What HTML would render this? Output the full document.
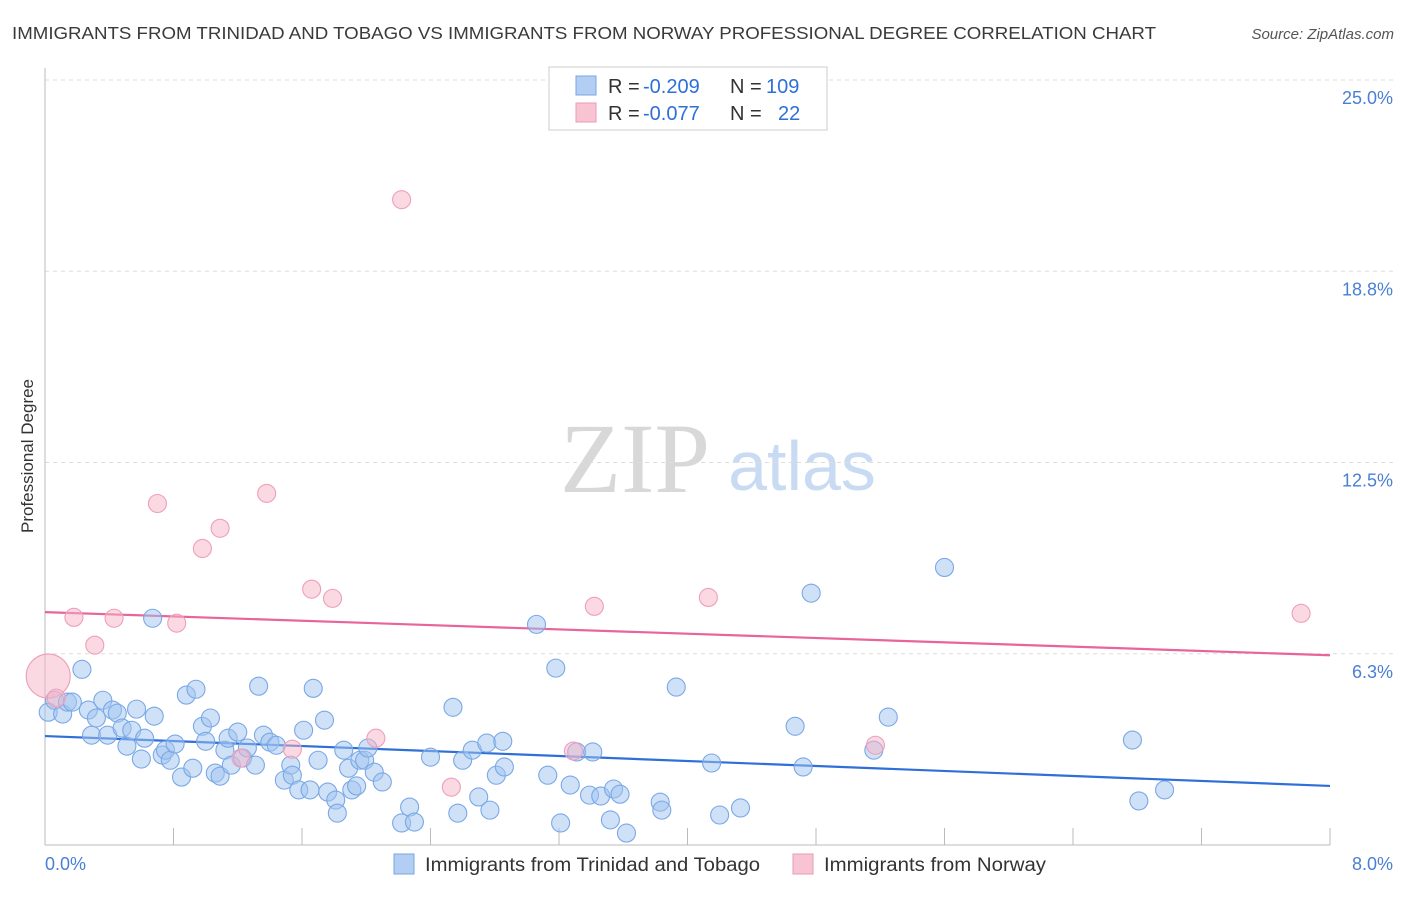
<!DOCTYPE html>
<html><head><meta charset="utf-8"><style>
body{margin:0;background:#fff;font-family:"Liberation Sans",sans-serif;}
svg text{font-family:"Liberation Sans",sans-serif;}
</style></head><body>
<svg id="chart" width="1406" height="892" xmlns="http://www.w3.org/2000/svg">
<text x="12" y="39" font-size="17.5" fill="#3a3a3a" textLength="1144" lengthAdjust="spacingAndGlyphs">IMMIGRANTS FROM TRINIDAD AND TOBAGO VS IMMIGRANTS FROM NORWAY PROFESSIONAL DEGREE CORRELATION CHART</text>
<text x="1394" y="39" font-size="15" fill="#555" text-anchor="end" font-style="italic">Source: ZipAtlas.com</text>
<text transform="translate(33,456) rotate(-90)" font-size="17" fill="#333" text-anchor="middle">Professional Degree</text>
<g>
<text x="635" y="492" font-size="100" fill="#d8d8d8" text-anchor="middle" style="font-family:'Liberation Serif',serif">ZIP</text>
<text x="802" y="490" font-size="70" fill="#c9dbf3" text-anchor="middle">atlas</text>
</g>
<g id="grid"></g><g id="axes"></g><g id="trend"></g><g id="pts"></g>
<g>
<rect x="549" y="67" width="278" height="63" fill="#fff" stroke="#ccc"/>
<rect x="576" y="76" width="20" height="19" fill="#b3cef3" stroke="#7aa5e3"/>
<rect x="576" y="103" width="20" height="19" fill="#f8c3d3" stroke="#eb9bb5"/>
<text x="608" y="93" font-size="20" fill="#333">R =</text>
<text x="643" y="93" font-size="20" fill="#2e6fd8">-0.209</text>
<text x="730" y="93" font-size="20" fill="#333">N =</text>
<text x="766" y="93" font-size="20" fill="#2e6fd8">109</text>
<text x="608" y="120" font-size="20" fill="#333">R =</text>
<text x="643" y="120" font-size="20" fill="#2e6fd8">-0.077</text>
<text x="730" y="120" font-size="20" fill="#333">N =</text>
<text x="778" y="120" font-size="20" fill="#2e6fd8">22</text>
</g>
<g>
<rect x="394" y="854" width="20" height="20" fill="#b3cef3" stroke="#7aa5e3"/>
<text x="425" y="871" font-size="19" fill="#333" textLength="335" lengthAdjust="spacingAndGlyphs">Immigrants from Trinidad and Tobago</text>
<rect x="793" y="854" width="20" height="20" fill="#f8c3d3" stroke="#eb9bb5"/>
<text x="824" y="871" font-size="19" fill="#333" textLength="222" lengthAdjust="spacingAndGlyphs">Immigrants from Norway</text>
</g>
</svg>
<script>
const yTicks=[6.25,12.5,18.75,25];
const yTickLabels=["6.3%","12.5%","18.8%","25.0%"];
const xTickLabels=["0.0%","8.0%"];
const blueX=[0.02,0.06,0.11,0.14,0.17,0.23,0.27,0.29,0.32,0.36,0.39,0.42,0.45,0.48,0.51,0.54,0.57,0.60,0.62,0.67,0.68,0.73,0.75,0.78,0.81,0.85,0.88,0.92,0.94,0.98,1.00,1.03,1.06,1.09,1.12,1.14,1.16,1.20,1.23,1.26,1.31,1.33,1.36,1.40,1.44,1.49,1.53,1.54,1.58,1.61,1.65,1.67,1.70,1.74,1.76,1.81,1.82,1.86,1.89,1.91,1.94,1.96,1.99,2.01,2.05,2.10,2.22,2.27,2.30,2.40,2.54,2.57,2.60,2.66,2.70,2.75,2.77,2.81,2.85,2.86,3.06,3.13,3.18,3.21,3.27,3.31,3.39,3.41,3.46,3.52,3.54,3.58,3.62,3.83,3.84,3.93,4.15,4.20,4.33,4.67,4.72,4.77,5.16,5.25,5.60,6.77,6.81,6.97];
const blueY=[4.34,4.73,4.28,4.67,4.67,5.74,4.41,3.59,4.15,4.73,3.59,4.41,4.31,3.82,3.23,3.75,4.44,2.81,3.49,7.41,4.21,2.94,3.10,2.77,3.30,2.22,4.90,2.51,5.09,3.88,3.39,4.15,2.35,2.25,3.10,3.49,2.61,3.69,2.84,3.17,2.61,5.19,3.59,3.36,3.26,2.12,2.61,2.28,1.80,3.75,1.80,5.12,2.77,4.08,1.73,1.47,1.04,3.10,2.51,1.80,1.93,2.77,2.77,3.17,2.38,2.06,0.72,1.24,0.75,2.87,4.50,1.04,2.77,3.10,1.57,3.33,1.14,2.28,3.39,2.55,7.21,2.28,5.78,0.72,1.96,3.04,1.63,3.04,1.60,0.82,1.83,1.66,0.39,1.40,1.14,5.16,2.68,0.98,1.21,3.88,2.55,8.23,3.10,4.18,9.07,3.43,1.44,1.80];
const pinkX=[0.02,0.07,0.18,0.31,0.43,0.70,0.82,0.98,1.09,1.22,1.38,1.54,1.66,1.79,2.06,2.22,2.53,3.29,3.42,4.13,5.17,7.82];
const pinkY=[5.52,4.80,7.44,6.53,7.41,11.16,7.25,9.69,10.35,2.84,11.49,3.13,8.36,8.06,3.49,21.09,1.89,3.07,7.80,8.09,3.26,7.57];
const pinkR=[22,9,9,9,9,9,9,9,9,9,9,9,9,9,9,9,9,9,9,9,9,9];
const blueTrend=[3.56,1.93];
const pinkTrend=[7.61,6.20];
const NS="http://www.w3.org/2000/svg";
const X0=45,X1=1330,Y0=845,Y25=80;
const xs=v=>X0+v/8*(X1-X0);
const ys=v=>Y0-v/25*(Y0-Y25);
function mk(t,a,p){const e=document.createElementNS(NS,t);for(const k in a)e.setAttribute(k,a[k]);p.appendChild(e);return e;}
const grid=document.getElementById('grid'),axes=document.getElementById('axes'),trend=document.getElementById('trend'),pts=document.getElementById('pts');
yTicks.forEach((v,i)=>{
 const l=mk('line',{x1:X0,x2:1395,y1:ys(v),y2:ys(v),stroke:'#ddd','stroke-dasharray':'4,4'},grid);
 
 
 const t=mk('text',{x:1393,y:ys(v)+24,'font-size':18,fill:'#4a7fd6','text-anchor':'end'},axes);
 t.textContent=yTickLabels[i];
 
 
});
const ya=mk('line',{x1:X0,x2:X0,y1:68,y2:Y0,stroke:'#bbb'},axes);


const xa=mk('line',{x1:X0,x2:X1,y1:Y0,y2:Y0,stroke:'#bbb'},axes);


for(let i=0;i<=10;i++){
 const tk=mk('line',{x1:xs(i*0.8),x2:xs(i*0.8),y1:828,y2:Y0,stroke:'#bbb'},axes);
 
 
}
[[0,'start',X0],[1,'end',1393]].forEach(([i,a,x])=>{
 const t=mk('text',{x:x,y:870,'font-size':18,fill:'#4a7fd6','text-anchor':a},axes);
 t.textContent=xTickLabels[i];
 
 
});
blueX.forEach((v,i)=>{
 const c=mk('circle',{cx:xs(v),cy:ys(blueY[i]),r:9,fill:'rgba(160,195,240,0.5)',stroke:'#7aa8e6','stroke-width':1.1},pts);
 
 
});
pinkX.forEach((v,i)=>{
 const c=mk('circle',{cx:xs(v),cy:ys(pinkY[i]),r:pinkR[i],fill:'rgba(245,180,200,0.5)',stroke:'#ee9fb9','stroke-width':1.1},pts);
 
 
});
const bl=mk('line',{x1:xs(0),y1:ys(blueTrend[0]),x2:xs(8),y2:ys(blueTrend[1]),stroke:'#2e6fd8','stroke-width':2.2},trend);


const pl=mk('line',{x1:xs(0),y1:ys(pinkTrend[0]),x2:xs(8),y2:ys(pinkTrend[1]),stroke:'#e8649a','stroke-width':2.2},trend);


</script>
</body></html>
